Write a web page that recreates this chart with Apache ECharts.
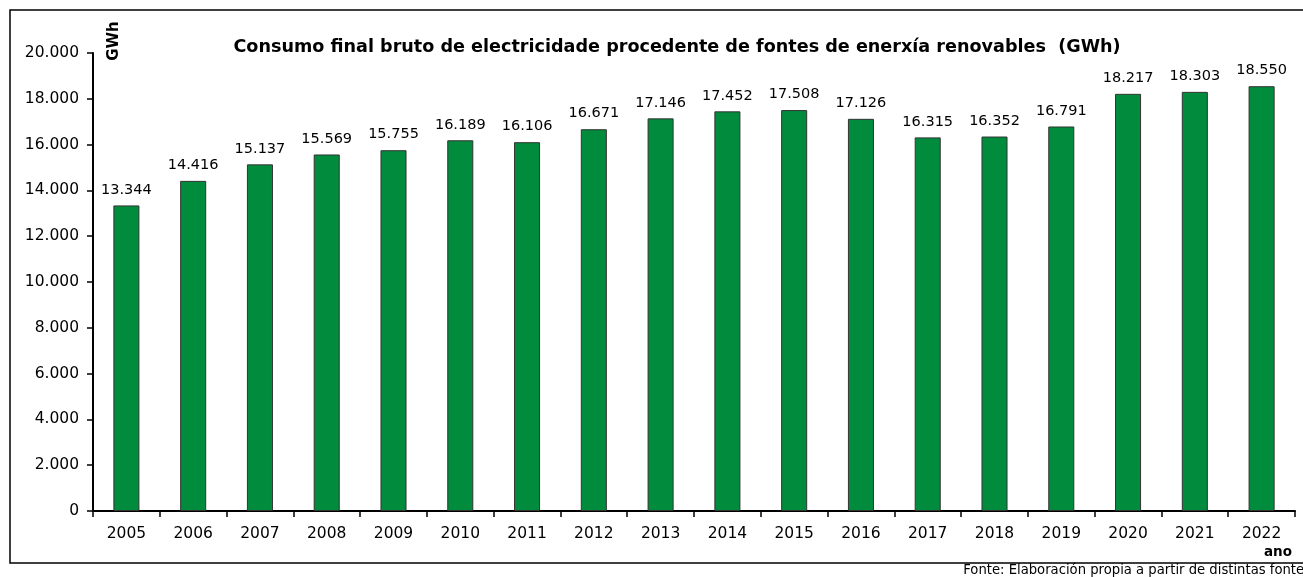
<!DOCTYPE html>
<html>
<head>
<meta charset="utf-8">
<script src="https://cdn.jsdelivr.net/npm/echarts@6/dist/echarts.min.js"></script>
<style>
  html, body { margin: 0; padding: 0; background: #fff; }
  #chart { width: 1303px; height: 577px; }
</style>
</head>
<body>
<div id="chart"></div>
<script>
// anos e valores (GWh)
var anos = ['2005', '2006', '2007', '2008', '2009', '2010', '2011', '2012', '2013',
  '2014', '2015', '2016', '2017', '2018', '2019', '2020', '2021', '2022'];
var consumo = [13344, 14416, 15137, 15569, 15755, 16189, 16106, 16671, 17146,
  17452, 17508, 17126, 16315, 16352, 16791, 18217, 18303, 18550];

function fmt(v) {
  return String(v).replace(/\B(?=(\d{3})+(?!\d))/g, '.');
}

var myChart = echarts.init(document.getElementById('chart'));
var fonte = '"DejaVu Sans", Verdana, sans-serif';

myChart.setOption({
  animation: false,
  textStyle: { fontFamily: fonte, color: '#000' },
  title: {
    text: 'Consumo final bruto de electricidade procedente de fontes de enerxía renovables  (GWh)',
    left: 672,
    textAlign: 'center',
    top: 33,
    textStyle: { fontSize: 17.6, fontWeight: 'bold', color: '#000', fontFamily: fonte }
  },
  grid: { left: 93, right: 8, top: 53, bottom: 66 },
  xAxis: {
    type: 'category',
    data: anos,
    axisLine: { lineStyle: { color: '#000', width: 2 } },
    axisTick: { show: true, length: 6, lineStyle: { color: '#000', width: 1.5 } },
    axisLabel: { color: '#000', fontSize: 15.5, margin: 15, fontFamily: fonte }
  },
  yAxis: {
    type: 'value',
    min: 0,
    max: 20000,
    interval: 2000,
    splitLine: { show: false },
    axisLine: { show: true, lineStyle: { color: '#000', width: 2 } },
    axisTick: { show: true, length: 6, lineStyle: { color: '#000', width: 1.5 } },
    axisLabel: { color: '#000', fontSize: 15.5, margin: 14, fontFamily: fonte, formatter: fmt }
  },
  series: [{
    type: 'bar',
    data: consumo,
    barWidth: '39%',
    itemStyle: { color: '#008c3c', borderColor: '#333', borderWidth: 1 },
    label: {
      show: true,
      position: 'top',
      distance: 8,
      color: '#000',
      fontSize: 14.5,
      fontFamily: fonte,
      formatter: function (p) { return fmt(p.value); }
    }
  }],
  graphic: [
    {
      type: 'polyline',
      shape: { points: [[1303, 10], [10, 10], [10, 563], [1303, 563]] },
      style: { fill: null, stroke: '#000', lineWidth: 1.5 },
      silent: true
    },
    {
      type: 'text',
      x: 114, y: 41,
      rotation: Math.PI / 2,
      style: { text: 'GWh', fontSize: 15, fontWeight: 'bold', fill: '#000', fontFamily: fonte, align: 'center', verticalAlign: 'middle' }
    },
    {
      type: 'text',
      x: 1278, y: 552,
      style: { text: 'ano', fontSize: 13.5, fontWeight: 'bold', fill: '#000', fontFamily: fonte, align: 'center', verticalAlign: 'middle' }
    },
    {
      type: 'text',
      x: 1311, y: 571,
      style: { text: 'Fonte: Elaboración propia a partir de distintas fontes', fontSize: 13.2, fill: '#000', fontFamily: fonte, align: 'right', verticalAlign: 'middle' }
    }
  ]
});
</script>
</body>
</html>
